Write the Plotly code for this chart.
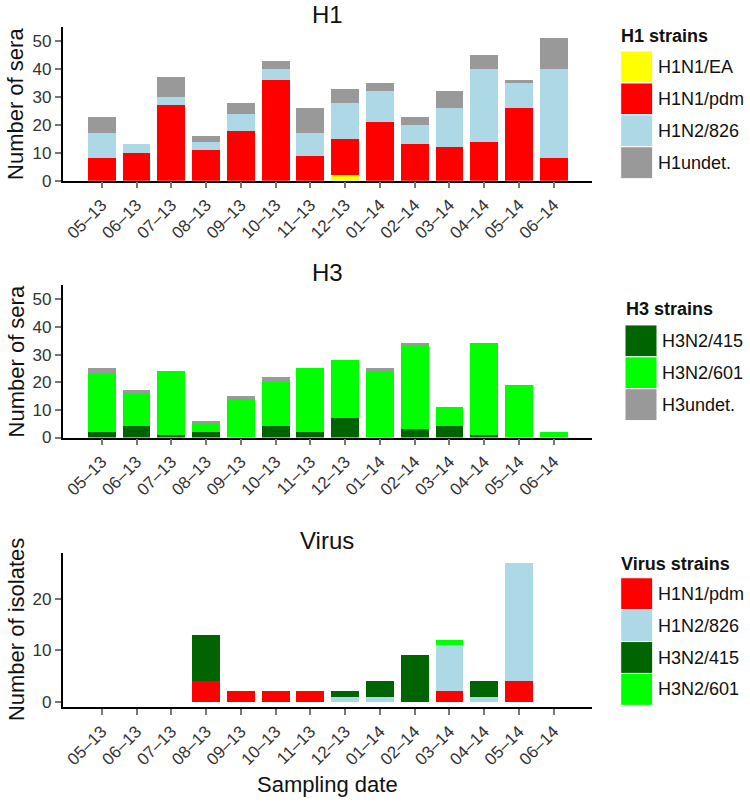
import plotly.graph_objects as go

months = ["05–13", "06–13", "07–13", "08–13", "09–13", "10–13", "11–13",
          "12–13", "01–14", "02–14", "03–14", "04–14", "05–14", "06–14"]

# H1 sera
h1_ea    = [0, 0, 0, 0, 0, 0, 0, 2, 0, 0, 0, 0, 0, 0]
h1_pdm   = [8, 10, 27, 11, 18, 36, 9, 13, 21, 13, 12, 14, 26, 8]
h1_826   = [9, 3, 3, 3, 6, 4, 8, 13, 11, 7, 14, 26, 9, 32]
h1_undet = [6, 0, 7, 2, 4, 3, 9, 5, 3, 3, 6, 5, 1, 11]

# H3 sera
h3_415   = [2, 4, 1, 2, 0, 4, 2, 7, 0, 3, 4, 1, 0, 0]
h3_601   = [21, 12, 23, 3, 14, 16, 23, 21, 24, 30, 7, 33, 19, 2]
h3_undet = [2, 1, 0, 1, 1, 2, 0, 0, 1, 1, 0, 0, 0, 0]

# Virus isolates
v_pdm = [0, 0, 0, 4, 2, 2, 2, 0, 0, 0, 2, 0, 4, 0]
v_826 = [0, 0, 0, 0, 0, 0, 0, 1, 1, 0, 9, 1, 23, 0]
v_415 = [0, 0, 0, 9, 0, 0, 0, 1, 3, 9, 0, 3, 0, 0]
v_601 = [0, 0, 0, 0, 0, 0, 0, 0, 0, 0, 1, 0, 0, 0]

YELLOW, RED, LBLUE, GREY = "#FFFF00", "#FF0000", "#ADD8E6", "#999999"
DGREEN, GREEN = "#006400", "#00FF00"

W, H = 750, 807
FONT = "Liberation Sans, Arial, sans-serif"

def px(x):
    return x / W

def py(y):
    return 1 - y / H

fig = go.Figure()

panels = [
    ("x", "y", [("H1N1/EA", h1_ea, YELLOW), ("H1N1/pdm", h1_pdm, RED),
                ("H1N2/826", h1_826, LBLUE), ("H1undet.", h1_undet, GREY)]),
    ("x2", "y2", [("H3N2/415", h3_415, DGREEN), ("H3N2/601", h3_601, GREEN),
                  ("H3undet.", h3_undet, GREY)]),
    ("x3", "y3", [("H1N1/pdm", v_pdm, RED), ("H1N2/826", v_826, LBLUE),
                  ("H3N2/415", v_415, DGREEN), ("H3N2/601", v_601, GREEN)]),
]
for xa, ya, series in panels:
    for name, vals, col in series:
        fig.add_trace(go.Bar(x=months, y=vals, name=name, xaxis=xa, yaxis=ya,
                             marker=dict(color=col, line=dict(width=0)),
                             showlegend=False))

xdom = [px(62.5), px(592)]
xrange = [-1.13, 14.1]

def xaxis(anchor):
    return dict(domain=xdom, anchor=anchor, type="category", categoryarray=months,
                range=xrange, showline=True, linecolor="black", linewidth=1.5,
                ticks="outside", ticklen=6, tickwidth=1.5, tickcolor="#777",
                tickangle=-45, tickfont=dict(size=17, color="#333", family=FONT),
                showgrid=False, zeroline=False)

def yaxis(anchor, dom, rng, tickvals):
    return dict(domain=dom, anchor=anchor, range=rng, showline=True, linecolor="black",
                linewidth=1.5, ticks="outside", ticklen=6, tickwidth=1.5, tickcolor="#777",
                tickvals=tickvals, tickfont=dict(size=17, color="#333", family=FONT),
                showgrid=False, zeroline=False)

dom1 = [py(183), py(27.6)]
dom2 = [py(443), py(289)]
dom3 = [py(716), py(560)]

fig.update_layout(
    width=W, height=H, margin=dict(l=0, r=0, t=0, b=0),
    paper_bgcolor="white", plot_bgcolor="white",
    barmode="stack", bargap=0.2,
    font=dict(family=FONT, color="#111"),
    xaxis=xaxis("y"), yaxis=yaxis("x", dom1, [0, 55], [0, 10, 20, 30, 40, 50]),
    xaxis2=xaxis("y2"), yaxis2=yaxis("x2", dom2, [0, 55], [0, 10, 20, 30, 40, 50]),
    xaxis3=xaxis("y3"), yaxis3=yaxis("x3", dom3, [-1.05, 28.9], [0, 10, 20]),
)

ann = []
shapes = []
xc = (xdom[0] + xdom[1]) / 2
for t, y in [("H1", 15), ("H3", 276), ("Virus", 547)]:
    ann.append(dict(text=t, x=xc, y=py(y), xref="paper", yref="paper", showarrow=False,
                    xanchor="center", yanchor="middle", font=dict(size=24, color="#111")))
for t, y0, y1 in [("Number of sera", 27.6, 183), ("Number of sera", 289, 443),
                  ("Number of isolates", 560, 716)]:
    ann.append(dict(text=t, x=px(16), y=py((y0 + y1) / 2), xref="paper", yref="paper",
                    showarrow=False, textangle=-90, xanchor="center", yanchor="middle",
                    font=dict(size=22, color="#111")))
ann.append(dict(text="Sampling date", x=xc, y=py(794), xref="paper", yref="paper",
                showarrow=False, xanchor="center", yanchor="middle",
                font=dict(size=22, color="#111")))

def legend(title, tx, ty, sx, sy, items, step=32.3):
    ann.append(dict(text="<b>" + title + "</b>", x=px(tx), y=py(ty), xref="paper",
                    yref="paper", showarrow=False, xanchor="left", yanchor="middle",
                    font=dict(size=18, color="#111")))
    for i, (lab, col) in enumerate(items):
        y0 = sy + i * step
        shapes.append(dict(type="rect", xref="paper", yref="paper",
                           x0=px(sx), x1=px(sx + 32), y0=py(y0), y1=py(y0 + step),
                           fillcolor=col, line=dict(color="white", width=1)))
        ann.append(dict(text=lab, x=px(sx + 35), y=py(y0 + step / 2), xref="paper",
                        yref="paper", showarrow=False, xanchor="left", yanchor="middle",
                        font=dict(size=18, color="#111")))

legend("H1 strains", 619, 36.5, 620.7, 51.7,
       [("H1N1/EA", YELLOW), ("H1N1/pdm", RED), ("H1N2/826", LBLUE), ("H1undet.", GREY)])
legend("H3 strains", 624, 313, 625, 329,
       [("H3N2/415", DGREEN), ("H3N2/601", GREEN), ("H3undet.", GREY)])
legend("Virus strains", 619, 571.5, 620.7, 585,
       [("H1N1/pdm", RED), ("H1N2/826", LBLUE), ("H3N2/415", DGREEN), ("H3N2/601", GREEN)])

fig.update_layout(annotations=ann, shapes=shapes)
fig.write_html("out.html", config={"displayModeBar": False},
               post_script="document.body.style.margin='0';document.body.style.padding='0';")
